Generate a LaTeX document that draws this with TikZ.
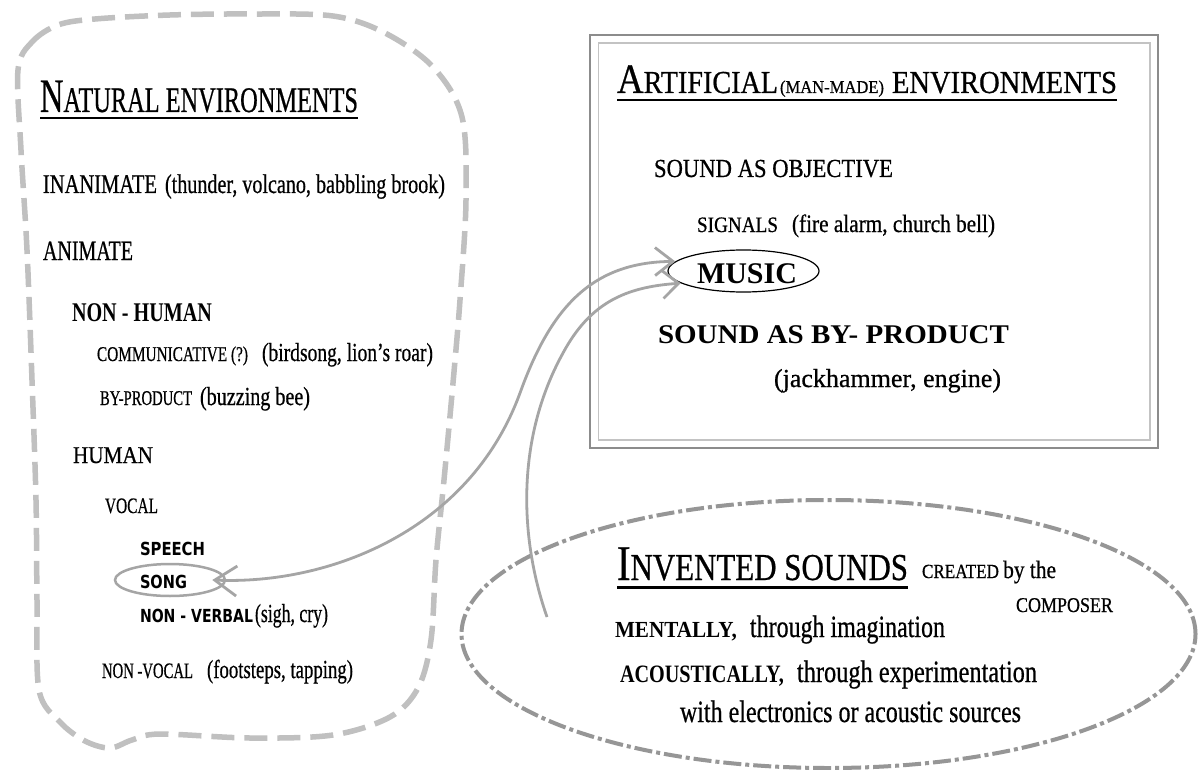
\documentclass[tikz,border=0pt]{standalone}
\usepackage{fontspec}
\setmainfont{Liberation Serif}[UprightFeatures={FakeBold=0.7}]
\newfontfamily\sansb{DejaVu Sans}[BoldFont={DejaVu Sans Bold}]
\usetikzlibrary{arrows.meta,shapes.geometric}
\newcommand\fs[1]{\fontsize{#1}{#1}\selectfont}
\newcommand\fitw[2]{\resizebox{#1pt}{\height}{#2}}
\definecolor{blobgray}{RGB}{192,192,192}
\definecolor{invgray}{RGB}{150,150,150}
\definecolor{arrgray}{RGB}{165,165,165}
\definecolor{boxdark}{RGB}{140,140,140}
\definecolor{boxlight}{RGB}{195,195,195}
\begin{document}
\begin{tikzpicture}[x=1pt,y=-1pt,
  txt/.style={anchor=base west,inner sep=0pt,outer sep=0pt},
  blob/.style={draw=blobgray,line width=5.5pt,dash pattern=on 23pt off 10pt},
  invented/.style={draw=invgray,line width=4pt,dash pattern=on 18pt off 4pt on 4pt off 4pt},
  link/.style={draw=arrgray,line width=2.8pt},
  uline/.style={line width=2pt}]
\useasboundingbox (0,0) rectangle (1198,770);
\fill[white] (0,0) rectangle (1198,770);

% ---------- natural environments ----------
\draw[blob] plot[smooth cycle,tension=0.55] coordinates {
  (18,70) (32,42) (58,25) (95,19) (170,15) (250,14) (333,16) (385,33)
  (433,67) (462,117) (466,200) (460,300) (453,383) (444,480) (436,560)
  (431,640) (418,688) (390,717) (333,735) (250,738) (160,734) (132,740)
  (110,748) (85,741) (60,722) (39,690) (37,600) (36,500) (32,380)
  (27,250) (21,150)};

\node[txt] (nat) at (40,112) {\fitw{318}{\fs{48}N\fs{36}ATURAL ENVIRONMENTS}};
\draw[uline] ([yshift=-6pt]nat.base west) -- ([yshift=-6pt]nat.base east);

\node[txt] (inan) at (43,193) {\fitw{114}{\fs{27}INANIMATE}};
\node[txt] (inanx) at (165,193) {\fitw{280}{\fs{27}(thunder, volcano, babbling brook)}};
\node[txt] (anim) at (43,260) {\fitw{90}{\fs{28}ANIMATE}};
\node[txt] (nonhum) at (72,321) {\fitw{140}{\fs{27}\bfseries NON - HUMAN}};
\node[txt] (comm) at (97,361) {\fitw{151}{\fs{21}COMMUNICATIVE (?)}};
\node[txt] (commx) at (262,361) {\fitw{171}{\fs{26}(birdsong, lion’s roar)}};
\node[txt] (byp) at (100,405) {\fitw{92}{\fs{21}BY-PRODUCT}};
\node[txt] (bypx) at (200,405) {\fitw{110}{\fs{26}(buzzing bee)}};
\node[txt] (hum) at (73,463) {\fitw{80}{\fs{24}HUMAN}};
\node[txt] (vocal) at (105,513) {\fitw{53}{\fs{22}VOCAL}};
\node[txt] (speech) at (140,555) {\fitw{65}{\sansb\bfseries\fs{18}SPEECH}};
\node[txt] (song) at (140,588) {\fitw{47}{\sansb\bfseries\fs{18}SONG}};
\node[draw=arrgray,line width=2.5pt,ellipse,minimum width=110pt,minimum height=32pt,inner sep=0pt]
  (songel) at (170,580) {};
\node[txt] (nverb) at (140,622) {\fitw{113}{\sansb\bfseries\fs{18}NON - VERBAL}};
\node[txt] (nverbx) at (255,622) {\fitw{73}{\fs{26}(sigh, cry)}};
\node[txt] (nvoc) at (102,678) {\fitw{91}{\fs{22}NON -VOCAL}};
\node[txt] (nvocx) at (207,678) {\fitw{146}{\fs{26}(footsteps, tapping)}};

% ---------- artificial environments ----------
\draw[boxdark,line width=1.8pt] (590,35) rectangle (1158,448);
\draw[boxlight,line width=1.6pt] (598.5,43) rectangle (1150,440);

\node[txt] (art) at (617,93) {\fitw{161}{\fs{42}A\fs{32}RTIFICIAL}};
\node[txt] (manmade) at (780,93) {\fitw{104}{\fs{18}(MAN-MADE)}};
\node[txt] (artenv) at (892,93) {\fitw{225}{\fs{32}ENVIRONMENTS}};
\draw[uline] ([yshift=-7pt]art.base west) -- ([yshift=-7pt]artenv.base east);

\node[txt] (obj) at (654,177) {\fitw{239}{\fs{26}SOUND AS OBJECTIVE}};
\node[txt] (sig) at (697,232) {\fitw{81}{\fs{22}SIGNALS}};
\node[txt] (sigx) at (792,232) {\fitw{203}{\fs{25}(fire alarm, church bell)}};
\node[draw,line width=1.2pt,ellipse,minimum width=151pt,minimum height=42pt,inner sep=0pt]
  (musicel) at (743.5,271) {};
\node[txt] (music) at (697,283) {\fitw{100}{\fs{30}\bfseries MUSIC}};
\node[txt] (bypr) at (658,343) {\fitw{351}{\fs{27}\bfseries SOUND AS BY- PRODUCT}};
\node[txt] (jack) at (774,387) {\fitw{227}{\fs{26}(jackhammer, engine)}};

% ---------- invented sounds ----------
\node[invented,ellipse,minimum width=734pt,minimum height=268pt,inner sep=0pt]
  (invel) at (828.5,634) {};
\node[txt] (inv) at (617,580) {\fitw{291}{\fs{50}I\fs{38}NVENTED SOUNDS}};
\draw[line width=3pt] ([yshift=-7pt]inv.base west) -- ([yshift=-7pt]inv.base east);
\node[txt] (created) at (922,578) {\fitw{134}{\fs{20}CREATED \fs{25}by the}};
\node[txt] (composer) at (1016,612) {\fitw{97}{\fs{21}COMPOSER}};
\node[txt] (ment) at (615,637) {\fitw{122}{\fs{23}\bfseries MENTALLY,}};
\node[txt] (mentx) at (750,637) {\fitw{195}{\fs{31}through imagination}};
\node[txt] (acou) at (620,682) {\fitw{164}{\fs{25}\bfseries ACOUSTICALLY,}};
\node[txt] (acoux) at (797,682) {\fitw{240}{\fs{31}through experimentation}};
\node[txt] (elec) at (680,722) {\fitw{341}{\fs{31}with electronics or acoustic sources}};

% ---------- connectors ----------
\coordinate (songtip) at ([xshift=-14pt]songel.east);
\coordinate (invstart) at (547,617);
\draw[link,{Straight Barb[length=22pt,width=30pt]}-{Straight Barb[length=18pt,width=28pt]}]
  (songtip) .. controls (330,585) and (470,530) .. (520,393)
            .. controls (550,310) and (590,262) .. (musicel.172);
\draw[link,-{Straight Barb[length=16pt,width=28pt]}]
  (invstart) .. controls (520,540) and (515,440) .. (563,353)
             .. controls (590,303) and (625,287) .. (musicel.191);
\end{tikzpicture}
\end{document}
